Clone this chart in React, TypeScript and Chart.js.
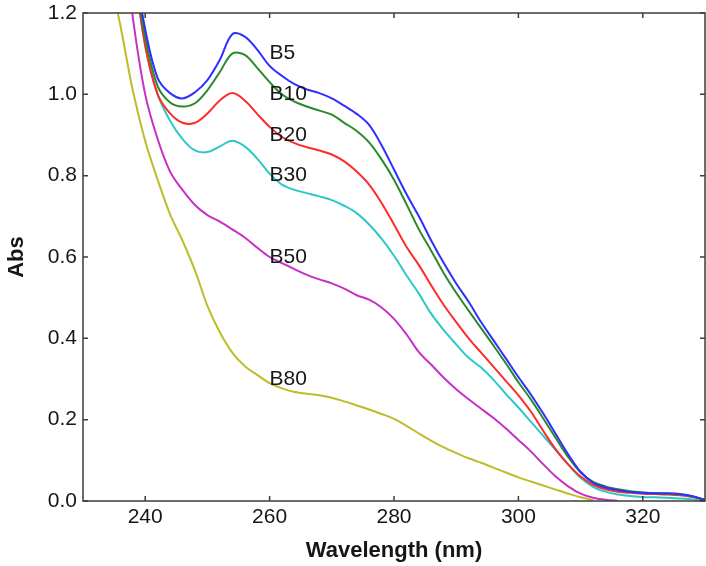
import React, { useEffect, useRef } from "react";
import { Chart, registerables } from "chart.js";

Chart.register(...registerables);

const wavelengths = [
  234, 236, 238, 240, 242, 244, 246, 248, 250, 252, 254, 256, 258, 260, 262, 264, 266, 268, 270, 272,
  274, 276, 278, 280, 282, 284, 286, 288, 290, 292, 294, 296, 298, 300, 302, 304, 306, 308, 310, 312,
  314, 316, 318, 320, 322, 324, 326, 328, 330,
];

const b5 = [
  null, null, 1.34, 1.16, 1.04, 1.003, 0.99, 1.005, 1.035, 1.085, 1.148, 1.142, 1.11, 1.07, 1.045, 1.025, 1.012, 1.003, 0.99, 0.972,
  0.952, 0.925, 0.875, 0.815, 0.755, 0.7, 0.64, 0.585, 0.535, 0.49, 0.44, 0.395, 0.35, 0.305, 0.262, 0.215, 0.165, 0.115, 0.072, 0.045,
  0.033, 0.027, 0.022, 0.02, 0.019, 0.019, 0.017, 0.012, 0.002,
];
const b10 = [
  null, null, 1.33, 1.14, 1.02, 0.98, 0.97, 0.978, 1.01, 1.055, 1.1, 1.097, 1.065, 1.03, 1.0, 0.982, 0.97, 0.96, 0.95, 0.93,
  0.91, 0.882, 0.84, 0.79, 0.73, 0.668, 0.615, 0.56, 0.512, 0.468, 0.425, 0.382, 0.338, 0.292, 0.25, 0.203, 0.155, 0.108, 0.07, 0.047,
  0.036, 0.029, 0.024, 0.021, 0.019, 0.018, 0.016, 0.011, 0.003,
];
const b20 = [
  null, null, 1.33, 1.12, 1.0, 0.953, 0.93, 0.93, 0.953, 0.985, 1.003, 0.985, 0.952, 0.92, 0.895, 0.88, 0.87, 0.862, 0.852, 0.835,
  0.81, 0.778, 0.733, 0.68, 0.625, 0.58, 0.53, 0.482, 0.44, 0.4, 0.365, 0.33, 0.295, 0.26, 0.22, 0.172, 0.127, 0.09, 0.06, 0.04,
  0.029, 0.023, 0.02, 0.018, 0.017, 0.016, 0.014, 0.01, 0.003,
];
const b30 = [
  null, null, 1.33, 1.12, 1.0, 0.935, 0.89, 0.862, 0.858, 0.872, 0.886, 0.872, 0.842, 0.805, 0.778, 0.765, 0.757, 0.749, 0.74, 0.726,
  0.708, 0.68, 0.645, 0.603, 0.555, 0.51, 0.46, 0.42, 0.385, 0.352, 0.328, 0.298, 0.263, 0.23, 0.195, 0.16, 0.125, 0.09, 0.057, 0.035,
  0.023, 0.016, 0.012, 0.01, 0.009, 0.008, 0.006, 0.004, 0.0,
];
const b50 = [
  null, 1.45, 1.19, 1.0, 0.89, 0.81, 0.765, 0.728, 0.703, 0.687, 0.668, 0.648, 0.623, 0.6, 0.585, 0.57, 0.556, 0.545, 0.535, 0.522,
  0.506, 0.495, 0.476, 0.448, 0.41, 0.366, 0.335, 0.303, 0.275, 0.25, 0.227, 0.204, 0.178, 0.15, 0.122, 0.09, 0.06, 0.036, 0.018, 0.008,
  0.003, 0.0, null, null, null, null, null, null, null,
];
const b80 = [
  1.31, 1.17, 1.01, 0.885, 0.79, 0.705, 0.64, 0.567, 0.48, 0.415, 0.365, 0.332, 0.31, 0.29, 0.277, 0.268, 0.264, 0.26, 0.254, 0.245,
  0.235, 0.225, 0.214, 0.202, 0.185, 0.166, 0.148, 0.132, 0.118, 0.105, 0.094, 0.082, 0.07, 0.058, 0.048, 0.038, 0.028, 0.018, 0.009, 0.002,
  null, null, null, null, null, null, null, null, null,
];

const seriesNames = ["B5", "B10", "B20", "B30", "B50", "B80"];
const seriesValues = [b5, b10, b20, b30, b50, b80];
const seriesColors = ["#2f2fff", "#2a8a2a", "#ff2b2b", "#2cc8c8", "#c630c6", "#bdbd2a"];

const labelX = [260, 260, 260, 260, 260, 260];
const labelY = [1.1, 1.0, 0.9, 0.8, 0.6, 0.3];

const xTickValues = [240, 260, 280, 300, 320];
const yTickValues = [0, 0.2, 0.4, 0.6, 0.8, 1.0, 1.2];

const FONT = "'Liberation Sans', Arial, Helvetica, sans-serif";
const TEXT = "#161616";

const framePlugin = {
  id: "framePlugin",
  afterDatasetsDraw(chart: any) {
    const { ctx, chartArea, scales } = chart;
    const { left, right, top, bottom } = chartArea;
    const xs = scales.x;
    const ys = scales.y;
    ctx.save();
    ctx.strokeStyle = "#3c3c3c";
    ctx.lineWidth = 1.5;
    ctx.strokeRect(left, top, right - left, bottom - top);
    const tl = 5;
    ctx.beginPath();
    xTickValues.forEach((v) => {
      const px = xs.getPixelForValue(v);
      ctx.moveTo(px, bottom);
      ctx.lineTo(px, bottom - tl);
      ctx.moveTo(px, top);
      ctx.lineTo(px, top + tl);
    });
    yTickValues.forEach((v) => {
      const py = ys.getPixelForValue(v);
      ctx.moveTo(left, py);
      ctx.lineTo(left + tl, py);
      ctx.moveTo(right, py);
      ctx.lineTo(right - tl, py);
    });
    ctx.stroke();

    ctx.fillStyle = TEXT;
    ctx.font = `21px ${FONT}`;
    ctx.textAlign = "left";
    ctx.textBaseline = "middle";
    seriesNames.forEach((name, i) => {
      ctx.fillText(name, xs.getPixelForValue(labelX[i]), ys.getPixelForValue(labelY[i]));
    });
    ctx.restore();
  },
};

export default function App() {
  const ref = useRef<HTMLCanvasElement | null>(null);

  useEffect(() => {
    document.body.style.margin = "0";
    const canvas = ref.current;
    if (!canvas) return;
    const chart = new Chart(canvas, {
      type: "line",
      data: {
        labels: wavelengths,
        datasets: seriesNames.map((name, i) => ({
          label: name,
          data: wavelengths.map((w, j) => ({ x: w, y: seriesValues[i][j] })),
          borderColor: seriesColors[i],
          backgroundColor: seriesColors[i],
          borderWidth: 2,
          pointRadius: 0,
          tension: 0.35,
          spanGaps: false,
          fill: false,
        })),
      },
      options: {
        responsive: false,
        animation: false,
        layout: { padding: { top: 13, right: 1, left: 0, bottom: 0 } },
        plugins: {
          legend: { display: false },
          tooltip: { enabled: false },
        },
        scales: {
          x: {
            type: "linear",
            min: 230,
            max: 330,
            afterBuildTicks: (s: any) => {
              s.ticks = xTickValues.map((v) => ({ value: v }));
            },
            afterFit: (s: any) => {
              s.height = 65;
              s.paddingLeft = 0;
              s.paddingRight = 0;
            },
            grid: { display: false, drawTicks: false },
            border: { display: false },
            ticks: {
              padding: 4,
              color: TEXT,
              font: { family: FONT, size: 21 },
              maxRotation: 0,
              callback: (v: any) => String(v),
            },
            title: {
              display: true,
              text: "Wavelength (nm)",
              color: TEXT,
              font: { family: FONT, size: 22, weight: "bold" },
              padding: { top: 0, bottom: 2 },
            },
          },
          y: {
            type: "linear",
            min: 0,
            max: 1.2,
            afterBuildTicks: (s: any) => {
              s.ticks = yTickValues.map((v) => ({ value: v }));
            },
            afterFit: (s: any) => {
              s.width = 83;
              s.paddingTop = 0;
              s.paddingBottom = 0;
            },
            grid: { display: false, drawTicks: false },
            border: { display: false },
            ticks: {
              padding: 6,
              color: TEXT,
              font: { family: FONT, size: 21 },
              callback: (v: any) => Number(v).toFixed(1),
            },
            title: {
              display: true,
              text: "Abs",
              color: TEXT,
              font: { family: FONT, size: 22, weight: "bold" },
              padding: { top: 4, bottom: 0 },
            },
          },
        },
      },
      plugins: [framePlugin],
    } as any);
    return () => chart.destroy();
  }, []);

  return (
    <div style={{ width: 706, height: 566, background: "#fff" }}>
      <canvas ref={ref} width={706} height={566} style={{ display: "block" }} />
    </div>
  );
}
